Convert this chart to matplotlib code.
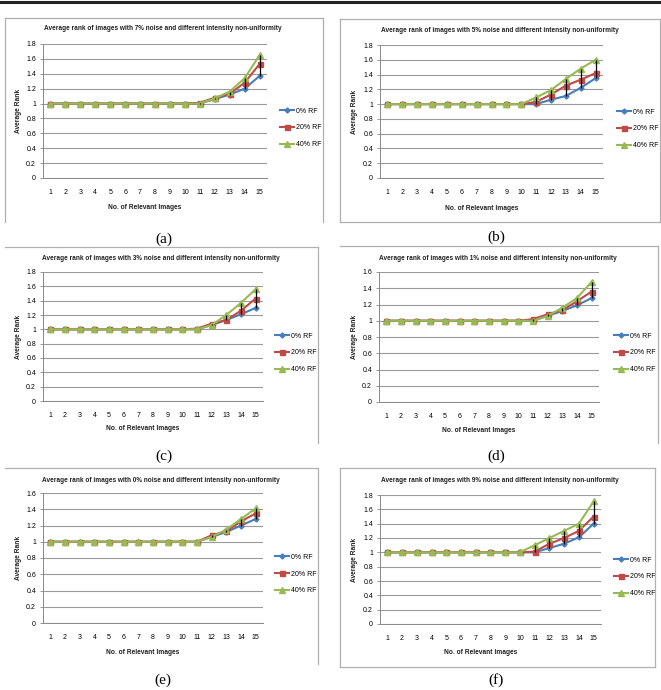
import numpy as np
import matplotlib
matplotlib.use("Agg")
import matplotlib.pyplot as plt
from matplotlib.lines import Line2D

plt.rcParams['font.family'] = ['Liberation Sans', 'DejaVu Sans']

W, H = 661, 690

n_images = [1, 2, 3, 4, 5, 6, 7, 8, 9, 10, 11, 12, 13, 14, 15]
series_names = ["0% RF", "20% RF", "40% RF"]
noise_levels = ["7%", "5%", "3%", "1%", "0%", "9%"]
panel_tags = ["(a)", "(b)", "(c)", "(d)", "(e)", "(f)"]
y_tops = [1.8, 1.8, 1.8, 1.6, 1.6, 1.8]

# average rank, per panel: 0% RF, 20% RF, 40% RF
a_rf0 = [1, 1, 1, 1, 1, 1, 1, 1, 1, 1, 1, 1.06, 1.12, 1.20, 1.37]
a_rf20 = [1, 1, 1, 1, 1, 1, 1, 1, 1, 1, 1.01, 1.08, 1.13, 1.28, 1.53]
a_rf40 = [1, 1, 1, 1, 1, 1, 1, 1, 1, 1, 1, 1.07, 1.16, 1.34, 1.65]

b_rf0 = [1, 1, 1, 1, 1, 1, 1, 1, 1, 1, 1, 1.06, 1.11, 1.22, 1.35]
b_rf20 = [1, 1, 1, 1, 1, 1, 1, 1, 1, 1, 1.03, 1.13, 1.25, 1.33, 1.42]
b_rf40 = [1, 1, 1, 1, 1, 1, 1, 1, 1, 1, 1.09, 1.19, 1.34, 1.48, 1.60]

c_rf0 = [1, 1, 1, 1, 1, 1, 1, 1, 1, 1, 1, 1.06, 1.13, 1.21, 1.30]
c_rf20 = [1, 1, 1, 1, 1, 1, 1, 1, 1, 1, 1.01, 1.08, 1.13, 1.26, 1.43]
c_rf40 = [1, 1, 1, 1, 1, 1, 1, 1, 1, 1, 1, 1.06, 1.20, 1.37, 1.56]

d_rf0 = [1, 1, 1, 1, 1, 1, 1, 1, 1, 1, 1, 1.06, 1.12, 1.19, 1.28]
d_rf20 = [1, 1, 1, 1, 1, 1, 1, 1, 1, 1, 1.02, 1.08, 1.13, 1.24, 1.36]
d_rf40 = [1, 1, 1, 1, 1, 1, 1, 1, 1, 1, 1, 1.06, 1.16, 1.28, 1.48]

e_rf0 = [1, 1, 1, 1, 1, 1, 1, 1, 1, 1, 1, 1.06, 1.12, 1.20, 1.28]
e_rf20 = [1, 1, 1, 1, 1, 1, 1, 1, 1, 1, 1, 1.08, 1.13, 1.25, 1.35]
e_rf40 = [1, 1, 1, 1, 1, 1, 1, 1, 1, 1, 1, 1.06, 1.15, 1.28, 1.41]

f_rf0 = [1, 1, 1, 1, 1, 1, 1, 1, 1, 1, 1, 1.06, 1.12, 1.21, 1.40]
f_rf20 = [1, 1, 1, 1, 1, 1, 1, 1, 1, 1, 1.01, 1.12, 1.20, 1.30, 1.50]
f_rf40 = [1, 1, 1, 1, 1, 1, 1, 1, 1, 1, 1.10, 1.20, 1.30, 1.40, 1.71]

all_data = [
    (a_rf0, a_rf20, a_rf40),
    (b_rf0, b_rf20, b_rf40),
    (c_rf0, c_rf20, c_rf40),
    (d_rf0, d_rf20, d_rf40),
    (e_rf0, e_rf20, e_rf40),
    (f_rf0, f_rf20, f_rf40),
]

colors = ["#4A7EBB", "#BE4B48", "#98B954"]
markers = ["D", "s", "^"]
msizes = [2.6, 3.6, 3.8]

# pixel layout of each panel: axes box (left, right, y0, ytop), title x/y,
# legend x/y, xlabel y, tag position, frame box
layout = [
    dict(ax=(43, 267, 178, 44), tx=163, ty=29, lx=277, ly=128, xl=207, tag=(164, 239),
         frame=(5, 323, 18, 222), sides="ltr"),
    dict(ax=(380, 603, 178, 45), tx=500, ty=30, lx=614, ly=129, xl=208, tag=(496, 237),
         frame=(340, 660, 19, 222), sides="ltrb"),
    dict(ax=(43, 263, 401, 272), tx=161, ty=258, lx=272, ly=353, xl=429, tag=(164, 456),
         frame=(5, 318, 247, 443), sides="tr"),
    dict(ax=(379, 599, 402, 272), tx=498, ty=258, lx=611, ly=353, xl=430, tag=(496, 456),
         frame=(340, 658, 246, 443), sides="tr"),
    dict(ax=(43, 263, 623, 493), tx=161, ty=480, lx=272, ly=574, xl=652, tag=(163, 680),
         frame=(5, 318, 468, 664), sides="tr"),
    dict(ax=(380, 601, 624, 495), tx=500, ty=481, lx=611, ly=577, xl=653, tag=(496, 680),
         frame=(340, 655, 468, 667), sides="ltrb"),
]

fig = plt.figure(figsize=(W / 100, H / 100), dpi=100)


def fx(px):
    return px / W


def fy(py):
    return 1 - py / H


# thick rule at the very top
fig.add_artist(Line2D([0, 1], [fy(2), fy(2)], color="#222222", lw=2.2))

for k in range(6):
    L = layout[k]
    left, right, y0, ytop = L["ax"]
    ax = fig.add_axes([fx(left), fy(y0), (right - left) / W, (y0 - ytop) / H])
    top = y_tops[k]
    ax.set_xlim(0.5, 15.5)
    ax.set_ylim(0, top)

    yt = np.arange(0, top + 0.01, 0.2)
    ax.set_yticks(yt)
    ax.set_yticklabels([f"{v:g}" for v in np.round(yt, 1)], fontsize=5)
    ax.set_xticks(n_images)
    ax.set_xticklabels([str(v) for v in n_images], fontsize=5)
    ax.tick_params(axis="x", length=0, pad=8)
    ax.tick_params(axis="y", length=2, width=0.6, color="#888888", pad=3)
    ax.yaxis.grid(True, color="#9A9A9A", lw=0.8)
    ax.set_axisbelow(True)
    for s in ["top", "right"]:
        ax.spines[s].set_visible(False)
    for s in ["left", "bottom"]:
        ax.spines[s].set_color("#888888")
        ax.spines[s].set_linewidth(0.7)

    rf0, rf20, rf40 = all_data[k]
    lo = np.minimum(np.minimum(rf0, rf20), rf40)
    hi = np.maximum(np.maximum(rf0, rf20), rf40)
    ax.vlines(n_images, lo, hi, color="black", lw=0.9, zorder=5)

    handles = []
    for s, vals in enumerate([rf0, rf20, rf40]):
        h, = ax.plot(n_images, vals, color=colors[s], marker=markers[s],
                     ms=msizes[s], lw=1.5, label=series_names[s], zorder=3 + s * 0.1)
        handles.append(h)

    fig.text(fx(L["tx"]), fy(L["ty"]),
             "Average rank of images with " + noise_levels[k]
             + " noise and different intensity non-uniformity",
             ha="center", va="center", fontsize=4.7, fontweight="bold", color="#222222")
    fig.text(fx((left + right) / 2 - 10), fy(L["xl"]), "No. of Relevant Images",
             ha="center", va="center", fontsize=4.8, fontweight="bold", color="#222222")
    fig.text(fx(left - 25), fy((y0 + ytop) / 2), "Average Rank", rotation=90,
             ha="center", va="center", fontsize=4.8, fontweight="bold", color="#222222")

    ax.legend(handles=handles, loc="center left", frameon=False, fontsize=5,
              bbox_to_anchor=(fx(L["lx"]), fy(L["ly"])), bbox_transform=fig.transFigure,
              handlelength=2.0, handletextpad=0.2, labelspacing=1.4, borderpad=0)

    fig.text(fx(L["tag"][0]), fy(L["tag"][1]), panel_tags[k], ha="center", va="center",
             fontsize=11, family="Liberation Serif")

    # light grey frame round each chart
    x1, x2, y1, y2 = L["frame"]
    fc = "#B0B0B0"
    if "t" in L["sides"]:
        fig.add_artist(Line2D([fx(x1), fx(x2)], [fy(y1), fy(y1)], color=fc, lw=0.9))
    if "b" in L["sides"]:
        fig.add_artist(Line2D([fx(x1), fx(x2)], [fy(y2), fy(y2)], color=fc, lw=0.9))
    if "l" in L["sides"]:
        fig.add_artist(Line2D([fx(x1), fx(x1)], [fy(y1), fy(y2)], color=fc, lw=0.9))
    if "r" in L["sides"]:
        fig.add_artist(Line2D([fx(x2), fx(x2)], [fy(y1), fy(y2)], color=fc, lw=0.9))

fig.savefig("out.png", dpi=100)
